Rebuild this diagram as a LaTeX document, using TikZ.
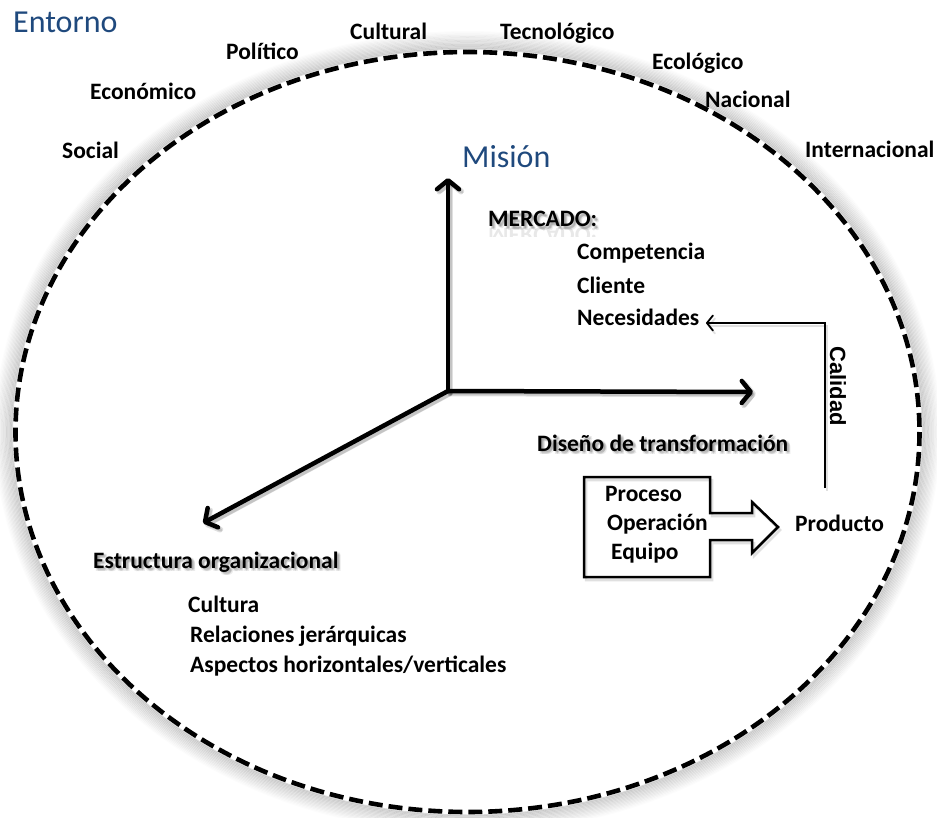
\documentclass[tikz,border=0pt]{standalone}
\usepackage{fontspec}
\setmainfont{Carlito}
\newfontfamily\arialfont{Liberation Sans}
\usetikzlibrary{arrows.meta,calc}
\definecolor{titleblue}{RGB}{31,73,125}
\tikzset{
  lbl/.style={anchor=west, inner sep=0pt, font=\bfseries\fontsize{23.5}{27}\selectfont,
    text height=16pt, text depth=0pt},
  ttl/.style={anchor=west, inner sep=0pt, font=\fontsize{32}{37}\selectfont,
    text=titleblue, text height=20.5pt, text depth=0pt},
  axis/.style={line width=4.5pt, line cap=round,
    -{Straight Barb[length=9pt,width=22pt,line cap=round,line join=round]}},
  thinarrow/.style={line width=1.8pt,
    -{Straight Barb[length=6pt,width=15pt,line cap=round,line join=round]}},
  softshadow/.style={draw=black, draw opacity=0.12},
  envline/.style={line width=4.6pt, dash pattern=on 14pt off 6pt},
}
% bold label with a soft drop shadow
\newcommand{\shadowlabel}[3]{%
  \foreach \dx/\dy in {1.5/1.5,2.5/2.5,1.5/3,3/1.5,3.5/3.5}{
    \node[lbl, text=black, text opacity=0.08] at ($(#2)+(\dx,\dy)$) {#3};
  }
  \node[lbl] (#1) at (#2) {#3};
}
\begin{document}
\begin{tikzpicture}[x=1pt,y=-1pt]
\useasboundingbox[fill=white] (0,0) rectangle (937,818);

% environment boundary: outer glow and dashed ellipse
\coordinate (ctr) at (467.5,432);
\foreach \k in {1,...,14}{
  \pgfmathsetmacro\op{0.16*(1-\k/15)}
  \draw[black, line width=1.6pt, draw opacity=\op]
    (ctr) ellipse [x radius={454+1.3*\k}, y radius={382+1.3*\k}];
}
\draw[envline] (ctr) ellipse [x radius=452, y radius=380];

% environment labels
\node[ttl] (entorno) at (13,22) {Entorno};
\node[lbl] (social) at (62,151) {Social};
\node[lbl] (econ) at (90,92) {Económico};
\node[lbl] (pol) at (226,52) {Político};
\node[lbl] (cult) at (350,32) {Cultural};
\node[lbl] (tec) at (500,32) {Tecnológico};
\node[lbl] (eco) at (652,62) {Ecológico};
\node[lbl] (nac) at (705,100) {Nacional};
\node[lbl] (intl) at (805,150) {Internacional};

% axes
\coordinate (O) at (448,391);
\coordinate (up) at (448,178);
\coordinate (rt) at (753,392);
\coordinate (dg) at (203,523);
\foreach \sx/\sy in {2/-3,3/-2}{
  \begin{scope}[transform canvas={shift={(\sx pt,\sy pt)}}]
    \draw[axis, softshadow] (O) -- (up);
    \draw[axis, softshadow] (O) -- (rt);
    \draw[axis, softshadow] (O) -- (dg);
  \end{scope}
}
\draw[axis] (O) -- (up);
\draw[axis] (O) -- (rt);
\draw[axis] (O) -- (dg);

% mission and market
\node[ttl] (mision) at (462,157) {Misión};
\begin{scope}
  \clip (480,229) rectangle (620,237);
  \node[lbl, yscale=-1, text opacity=0.09] at (488,236) {MERCADO:};
\end{scope}
\shadowlabel{mercado}{488,219}{MERCADO:}
\node[lbl] (comp) at (577,252) {Competencia};
\node[lbl] (cli) at (577,286) {Cliente};
\node[lbl] (nec) at (577,318) {Necesidades};

% transformation design
\shadowlabel{diseno}{537,443}{Diseño de transformación}
\begin{scope}[transform canvas={shift={(2pt,-3pt)}}]
  \draw[line width=2.5pt, softshadow, line join=miter]
    (584,477) -- (710,477) -- (710,513) -- (752,513) -- (752,502) -- (778,527)
    -- (752,553) -- (752,540) -- (710,540) -- (710,577) -- (584,577) -- cycle;
\end{scope}
\draw[line width=2.5pt, line join=miter]
  (584,477) -- (710,477) -- (710,513) -- (752,513) -- (752,502) -- (778,527)
  -- (752,553) -- (752,540) -- (710,540) -- (710,577) -- (584,577) -- cycle;
\node[lbl] (proc) at (605,493) {Proceso};
\node[lbl] (oper) at (607,522) {Operación};
\node[lbl] (equi) at (611,551) {Equipo};
\node[lbl] (prod) at (795,523) {Producto};

% quality feedback
\coordinate (qstart) at (825,488);
\coordinate (qend) at (706,323);
\begin{scope}[transform canvas={shift={(2pt,-3pt)}}]
  \draw[thinarrow, softshadow] (qstart) |- (qend);
\end{scope}
\draw[thinarrow] (qstart) |- (qend);
\node[font=\arialfont\bfseries\fontsize{22}{26}\selectfont, rotate=-90, inner sep=0pt]
  (cal) at (838,386) {Calidad};

% organizational structure
\shadowlabel{estr}{93,560}{Estructura organizacional}
\node[lbl] (cultura) at (188,604) {Cultura};
\node[lbl] (rel) at (190,634) {Relaciones jerárquicas};
\node[lbl] (asp) at (190,664) {Aspectos horizontales/verticales};
\end{tikzpicture}
\end{document}
